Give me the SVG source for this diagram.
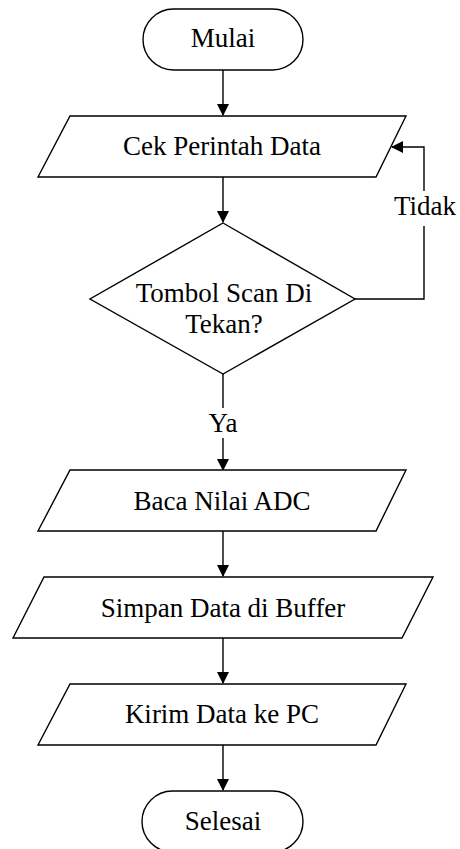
<svg xmlns="http://www.w3.org/2000/svg" width="460" height="849" viewBox="0 0 460 849" font-family="'Liberation Serif', 'Times New Roman', 'DejaVu Serif', serif">
<style>
.s{fill:#fff;stroke:#000;stroke-width:1.4}
.t{font-size:27px;fill:#000;text-anchor:middle}
.c{fill:none;stroke:#000;stroke-width:1.4}
</style>
<defs>
<marker id="a" markerWidth="12" markerHeight="12" refX="11" refY="6" orient="auto" markerUnits="userSpaceOnUse">
<path d="M0,0 L12,6 L0,12 Z" fill="#000"/>
</marker>
</defs>
<rect width="460" height="849" fill="#fff"/>
<g id="connectors">
<path class="c" d="M223,70 V115" marker-end="url(#a)"/>
<path class="c" d="M223,177 V222" marker-end="url(#a)"/>
<path class="c" d="M355,299 H424 V147 H392" marker-end="url(#a)"/>
<path class="c" d="M223,374 V470" marker-end="url(#a)"/>
<path class="c" d="M223,531 V576" marker-end="url(#a)"/>
<path class="c" d="M223,638 V683" marker-end="url(#a)"/>
<path class="c" d="M223,745 V790" marker-end="url(#a)"/>
<rect x="392" y="191" width="66" height="35" fill="#fff"/>
<text class="t" x="425" y="215">Tidak</text>
<rect x="205" y="408" width="36" height="30" fill="#fff"/>
<text class="t" x="223" y="432">Ya</text>
</g>
<g id="mulai">
<rect class="s" x="143" y="9" width="160" height="61" rx="30.5"/>
<text class="t" x="223" y="47">Mulai</text>
</g>
<g id="cek">
<polygon class="s" points="70,116 406,116 376,177 38,177"/>
<text class="t" x="222" y="155">Cek Perintah Data</text>
</g>
<g id="tombol">
<polygon class="s" points="223,223 355,299 223,374 90,299"/>
<text class="t" x="224" y="302">Tombol Scan Di</text>
<text class="t" x="224" y="333">Tekan?</text>
</g>
<g id="baca">
<polygon class="s" points="70,470 406,470 376,531 38,531"/>
<text class="t" x="222" y="510">Baca Nilai ADC</text>
</g>
<g id="simpan">
<polygon class="s" points="44,577 433,577 402,638 13,638"/>
<text class="t" x="223" y="617">Simpan Data di Buffer</text>
</g>
<g id="kirim">
<polygon class="s" points="70,684 406,684 376,745 38,745"/>
<text class="t" x="222" y="723">Kirim Data ke PC</text>
</g>
<g id="selesai">
<rect class="s" x="142" y="791" width="161" height="61" rx="30.5"/>
<text class="t" x="223" y="830">Selesai</text>
</g>
</svg>
